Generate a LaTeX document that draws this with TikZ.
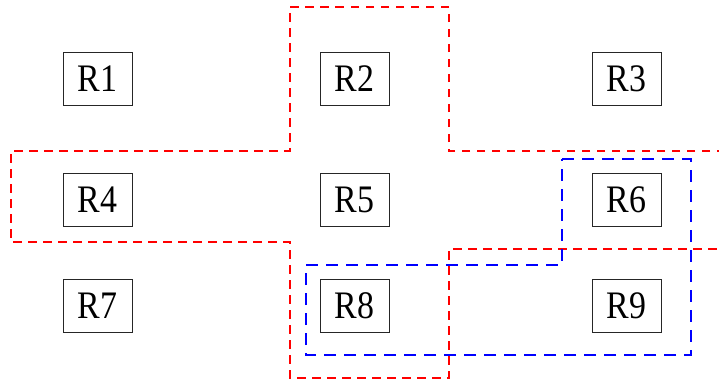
\documentclass[tikz,border=0pt]{standalone}
\usepackage{fontspec}
\setmainfont{Liberation Serif}
\usepackage{tikz}
\usetikzlibrary{shapes,arrows,positioning}
\newcommand{\regfont}{\fontsize{34}{40}\selectfont}
\tikzset{
region/.style = {draw=black!85, fill=white, rectangle, line width=0.9bp, inner sep=0pt,
  minimum width=69bp, minimum height=53bp, font=\regfont},
redzone/.style = {draw=red, line width=1.1bp, dash pattern=on 8.5bp off 6.5bp},
bluezone/.style = {draw=blue, line width=1.1bp, dash pattern=on 12bp off 8bp}
}

\begin{document}
\begin{tikzpicture}[x=1bp, y=-1bp]
    \useasboundingbox (0,0) rectangle (719,379);
    % We start by placing the regions, row by row
    \node at (97.5,79) [region] (R1) {\scalebox{1}[1.15]{R1}};
    \node [region, right of=R1, node distance=257bp] (R2) {\scalebox{1}[1.15]{R2}};
    \node [region, right of=R2, node distance=272bp] (R3) {\scalebox{1}[1.15]{R3}};
    \node [region, below of=R1, node distance=121bp] (R4) {\scalebox{1}[1.15]{R4}};
    \node [region, right of=R4, node distance=257bp] (R5) {\scalebox{1}[1.15]{R5}};
    \node [region, right of=R5, node distance=272bp] (R6) {\scalebox{1}[1.15]{R6}};
    \node [region, below of=R4, node distance=106bp] (R7) {\scalebox{1}[1.15]{R7}};
    \node [region, right of=R7, node distance=257bp] (R8) {\scalebox{1}[1.15]{R8}};
    \node [region, right of=R8, node distance=272bp] (R9) {\scalebox{1}[1.15]{R9}};

    % red cross around R5, open to the right
    \draw [redzone] (725,151) -- (449,151) -- (449,7) -- (290,7) -- (290,151)
        -- (11,151) -- (11,242) -- (290,242) -- (290,378) -- (449,378)
        -- (449,249) -- (725,249);
    % blue L around R6, R8 and R9
    \draw [bluezone] (562,159) -- (691,159) -- (691,355) -- (306,355)
        -- (306,265) -- (562,265) -- cycle;
\end{tikzpicture}
\end{document}
